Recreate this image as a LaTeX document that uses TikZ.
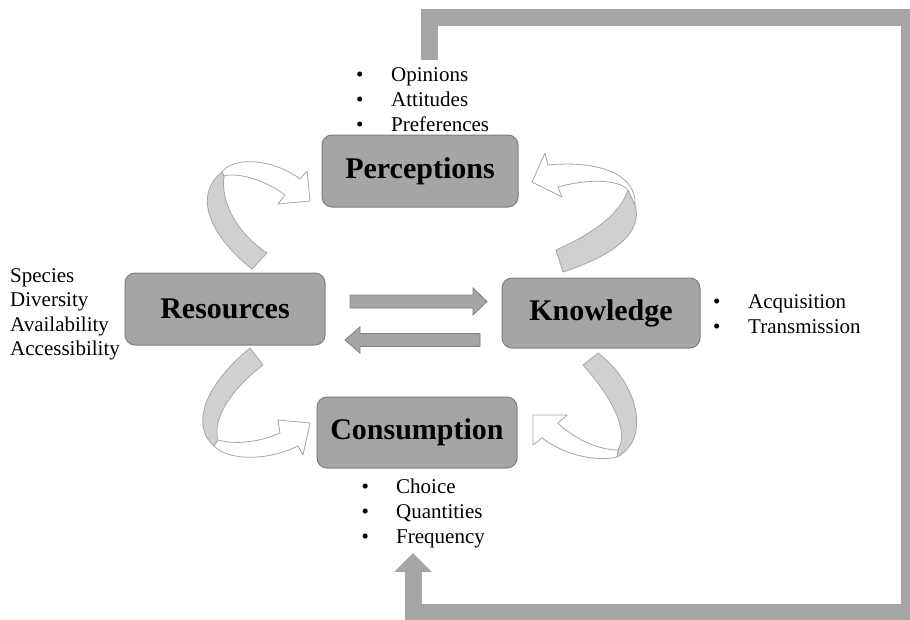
\documentclass[tikz,border=0pt]{standalone}
\usepackage{fontspec}
\setmainfont{Liberation Serif}
\definecolor{boxfill}{HTML}{A5A5A5}
\definecolor{boxline}{HTML}{7F7F7F}
\definecolor{loopgray}{HTML}{A6A6A6}
\definecolor{ribbon}{HTML}{D0D0D0}
\definecolor{ribline}{HTML}{A6A6A6}
\tikzset{
  mainbox/.style={draw=boxline, fill=boxfill, rounded corners=10pt, line width=1pt,
    inner sep=0pt, font=\bfseries\fontsize{30}{36}\selectfont},
  listtext/.style={anchor=base west, inner sep=0pt, font=\fontsize{21}{25}\selectfont},
  ribbonpart/.style={fill=ribbon, draw=ribline, line width=0.8pt, line join=round},
  arrowpart/.style={fill=white, draw=ribline, line width=0.8pt, line join=round},
  blockarrow/.style={fill=boxfill, draw=boxline, line width=0.8pt},
  loopband/.style={draw=loopgray, line width=17pt, line join=miter},
  loophead/.style={fill=loopgray},
}
\begin{document}
\begin{tikzpicture}[x=1pt,y=-1pt]
\useasboundingbox (0,0) rectangle (910,619);
\clip (0,0) rectangle (910,619);

% main boxes
\node[mainbox, minimum width=196pt, minimum height=72pt] (perc) at (420,171) {Perceptions};
\node[mainbox, minimum width=200pt, minimum height=72pt] (res) at (225,309) {Resources};
\node[mainbox, minimum width=198pt, minimum height=70pt] (know) at (601,313) {Knowledge};
\node[mainbox, minimum width=200pt, minimum height=71pt] (cons) at (417,432.5) {Consumption};

% top list
\foreach \t/\y [count=\i] in {Opinions/81, Attitudes/106, Preferences/131}{
  \node[listtext] (pb\i) at (356,\y) {•};
  \node[listtext] (pt\i) at (391,\y) {\t};
}
% left list
\foreach \t/\y [count=\i] in {Species/282, Diversity/306.5, Availability/331, Accessibility/355.5}{
  \node[listtext] (rt\i) at (10,\y) {\t};
}
% right list
\foreach \t/\y [count=\i] in {Acquisition/308, Transmission/333}{
  \node[listtext] (kb\i) at (713,\y) {•};
  \node[listtext] (kt\i) at (748,\y) {\t};
}
% bottom list
\foreach \t/\y [count=\i] in {Choice/493, Quantities/518, Frequency/543}{
  \node[listtext] (cb\i) at (361.5,\y) {•};
  \node[listtext] (ct\i) at (396,\y) {\t};
}

% straight block arrows
\draw[blockarrow] (350,295) -- (473,295) -- (473,288) -- (487,301.5) -- (473,315) -- (473,308) -- (350,308) -- cycle;
\draw[blockarrow] (480,333.5) -- (360,333.5) -- (360,327) -- (345,340) -- (360,353) -- (360,346.5) -- (480,346.5) -- cycle;

% curved arrows: top-left (Resources -> Perceptions)
\draw[ribbonpart] (252,269) .. controls (215,240) and (190,198) .. (222,172) -- (224,176)
   .. controls (220,205) and (240,235) .. (267,253) -- cycle;
\draw[arrowpart] (222,172) .. controls (235,155) and (275,160) .. (300,179) -- (307,171) -- (310,201)
   -- (278,204) -- (285,195) .. controls (265,180) and (238,172) .. (224,176) -- cycle;

% top-right (Knowledge -> Perceptions)
\draw[ribbonpart] (556,250) .. controls (590,235) and (620,215) .. (628,190) -- (635,205)
   .. controls (645,238) and (600,260) .. (563,272) -- cycle;
\draw[arrowpart] (635,205) .. controls (637,175) and (600,160) .. (548,165) -- (545,153) -- (532,182)
   -- (562,197) -- (558,187) .. controls (590,178) and (620,180) .. (628,190) -- cycle;

% bottom-left (Resources -> Consumption)
\draw[ribbonpart] (250,348) .. controls (205,385) and (190,425) .. (214,446) -- (218,440)
   .. controls (212,420) and (230,390) .. (263,365) -- cycle;
\draw[arrowpart] (214,446) .. controls (230,462) and (270,460) .. (298,446) -- (303,455) -- (310,423)
   -- (278,420) -- (280,433) .. controls (260,442) and (235,445) .. (218,440) -- cycle;

% bottom-right (Knowledge -> Consumption)
\draw[ribbonpart] (583,365) .. controls (610,395) and (630,430) .. (618,450) -- (617,457)
   .. controls (650,440) and (640,385) .. (598,353) -- cycle;
\draw[arrowpart] (617,457) .. controls (595,462) and (565,455) .. (542,438) -- (533,445) -- (533,415)
   -- (567,415) -- (558,423) .. controls (575,440) and (600,450) .. (618,450) -- cycle;

% outer feedback loop
\coordinate (loopstart) at (429,60);
\coordinate (loopend) at (413,571);
\draw[loopband] (loopstart) -- (429,17) -- (909,17) -- (909,612) -- (413,612) -- (loopend);
\fill[loophead] (394,572) -- (413,553) -- (432,572) -- cycle;
\end{tikzpicture}
\end{document}
